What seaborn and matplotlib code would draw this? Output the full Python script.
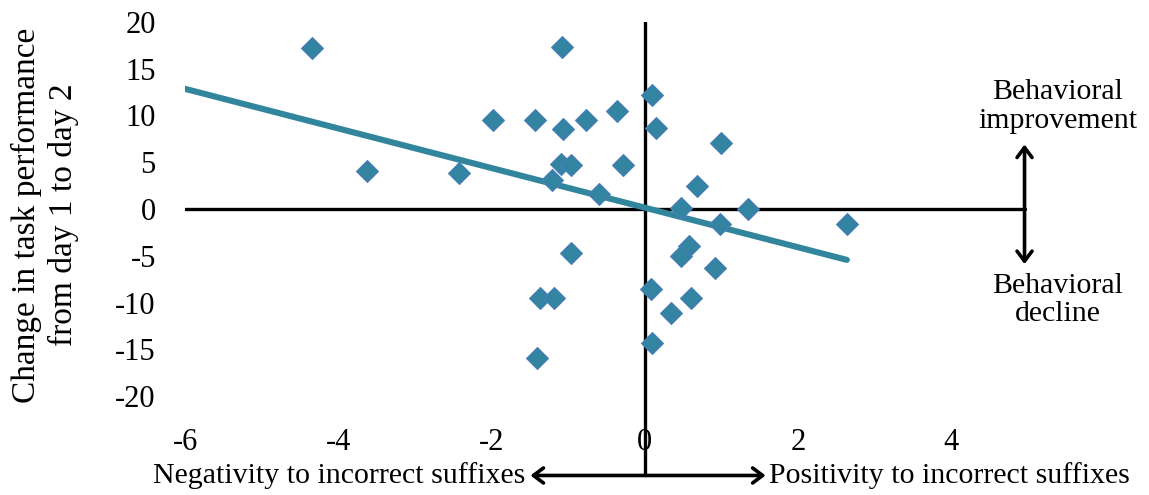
import numpy as np
import pandas as pd
import matplotlib
matplotlib.use("Agg")
import matplotlib.pyplot as plt
import seaborn as sns

# ---- data ----
erp_effect = [-4.34, -1.08, -3.63, -2.42, -1.98, -1.43, -1.06, -0.77, -0.36,
              -1.09, -0.96, -0.28, -1.21, -0.60, 0.10, 0.15, 1.00, 0.69,
              0.48, 1.35, 0.98, 2.64, -0.96, -1.37, -1.18, -1.41, 0.08,
              0.10, 0.58, 0.47, 0.92, 0.61, 0.34]
behav_change = [17.2, 17.3, 4.1, 3.9, 9.5, 9.5, 8.6, 9.5, 10.5,
                4.8, 4.7, 4.7, 3.1, 1.65, 12.2, 8.7, 7.1, 2.5,
                0.15, 0.03, -1.65, -1.6, -4.7, -9.5, -9.5, -15.9, -8.6,
                -14.3, -4.0, -5.05, -6.3, -9.5, -11.1]
x_ticks = [-6, -4, -2, 0, 2, 4]
y_ticks = [-20, -15, -10, -5, 0, 5, 10, 15, 20]
y_label = "Change in task performance\nfrom day 1 to day 2"
neg_label = "Negativity to incorrect suffixes"
pos_label = "Positivity to incorrect suffixes"
up_label = "Behavioral\nimprovement"
down_label = "Behavioral\ndecline"

sns.set_theme(style="white")
plt.rcParams['font.family'] = ['Liberation Serif', 'DejaVu Serif']
plt.rcParams['text.color'] = 'black'
plt.rcParams['xtick.color'] = 'black'
plt.rcParams['ytick.color'] = 'black'
plt.rcParams['xtick.labelcolor'] = 'black'
plt.rcParams['ytick.labelcolor'] = 'black'

W, H = 1149, 495
fig = plt.figure(figsize=(W / 100, H / 100), dpi=100)
ax = fig.add_axes([185 / W, 1 - 396 / H, (951 - 185) / W, (396 - 22) / H])

df = pd.DataFrame({"x": erp_effect, "y": behav_change})

fill = "#3384a0"
edge = "#4a7ebb"
trend_col = "#31859c"

# trend line (least squares from the data)
slope, intercept = np.polyfit(df["x"], df["y"], 1)
xs = np.array([x_ticks[0], df["x"].max()])
ax.plot(xs, slope * xs + intercept, color=trend_col, lw=4.4,
        solid_capstyle="round", zorder=3)

sns.scatterplot(data=df, x="x", y="y", marker="D", s=125, color=fill,
                edgecolor=edge, linewidth=0.8, ax=ax, zorder=4, legend=False)

ax.axhline(0, color="black", lw=2.4, zorder=2)
ax.axvline(0, color="black", lw=2.4, zorder=2)

ax.set_xlim(-6, 4)
ax.set_ylim(-20, 20)
ax.set_xticks(x_ticks)
ax.set_yticks(y_ticks)
ax.set_xticklabels([str(v) for v in x_ticks])
ax.set_yticklabels([str(v) for v in y_ticks])
ax.tick_params(axis="both", length=0, labelsize=22, labelcolor="black")
ax.tick_params(axis="y", pad=21)
ax.tick_params(axis="x", pad=23)
ax.set_xlabel("")
ax.set_ylabel("")
for s in ax.spines.values():
    s.set_visible(False)

# annotations outside the axes (data coords, unclipped)
y_arrow = -28.5
x_right = 4.96
arrow_style = "<->,head_length=0.6,head_width=0.45"
ax.plot([0, 0], [-20, y_arrow], color="black", lw=2.4, clip_on=False, zorder=2)
ax.annotate("", xy=(-1.49, y_arrow), xytext=(1.58, y_arrow),
            arrowprops=dict(arrowstyle=arrow_style, color="black", lw=2.6,
                            shrinkA=0, shrinkB=0),
            annotation_clip=False)
ax.plot([4, x_right], [0, 0], color="black", lw=2.4, clip_on=False, zorder=2)
ax.annotate("", xy=(x_right, 6.9), xytext=(x_right, -5.9),
            arrowprops=dict(arrowstyle=arrow_style, color="black", lw=2.6,
                            shrinkA=0, shrinkB=0),
            annotation_clip=False)

ax.text(-1.55, y_arrow, neg_label, ha="right", va="center", fontsize=21.5,
        clip_on=False)
ax.text(1.62, y_arrow, pos_label, ha="left", va="center", fontsize=21.5,
        clip_on=False)
ax.text(5.39, 11.0, up_label, ha="center", va="center", fontsize=21.5,
        linespacing=1.15, clip_on=False)
ax.text(5.39, -9.7, down_label, ha="center", va="center", fontsize=21.5,
        linespacing=1.1, clip_on=False)

fig.text(45 / W, 1 - 215 / H, y_label, rotation=90, ha="center", va="center",
         multialignment="center", fontsize=24, linespacing=1.25)

fig.savefig("out.png", dpi=100, facecolor="white")
